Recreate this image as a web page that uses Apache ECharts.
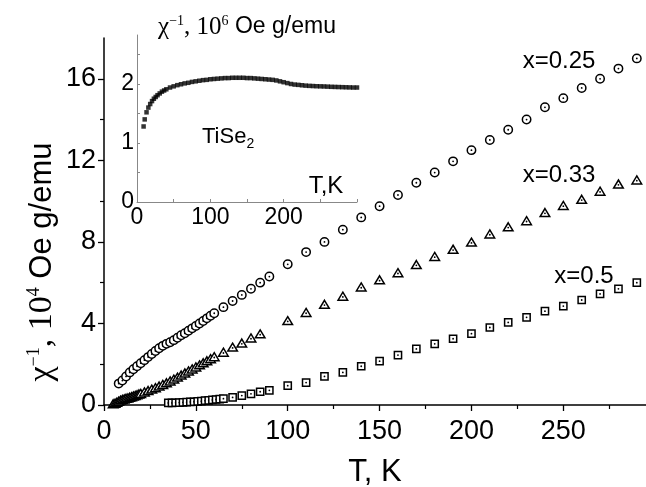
<!DOCTYPE html>
<html>
<head>
<meta charset="utf-8">
<script src="https://cdn.jsdelivr.net/npm/echarts@6/dist/echarts.min.js"></script>
<style>
  html, body { margin: 0; padding: 0; background: #fff; }
  #chart { width: 646px; height: 487px; }
</style>
</head>
<body>
<div id="chart"></div>
<script>
  // x = 0.25 (open circles)
  var tempX025 = [8, 10, 12, 14, 16, 18, 20, 22, 24, 26, 28, 30, 32, 34, 36, 38, 40, 42, 44, 46, 48, 50, 52, 54, 56, 58, 60,
    65, 70, 75, 80, 85, 90,
    100, 110, 120, 130, 140, 150, 160, 170, 180, 190, 200, 210, 220, 230, 240, 250, 260, 270, 280, 290];
  var chiX025 = [1.05, 1.2, 1.4, 1.6, 1.75, 1.9, 2.05, 2.2, 2.35, 2.5, 2.65, 2.78, 2.9, 3.0, 3.08, 3.18, 3.3, 3.42, 3.52, 3.64, 3.76, 3.88, 4.0, 4.12, 4.25, 4.38, 4.5,
    4.8, 5.1, 5.4, 5.7, 6.0, 6.3,
    6.9, 7.5, 8.0, 8.6, 9.2, 9.75, 10.3, 10.9, 11.4, 11.95, 12.5, 13.0, 13.5, 14.0, 14.6, 15.05, 15.55, 16.0, 16.5, 17.0];

  // x = 0.33 (open triangles)
  var tempX033 = [5, 6, 7, 8, 9, 10, 11, 12, 13, 14, 15, 16, 17, 18, 19, 20, 22, 24, 26, 28, 30, 32, 34, 36, 38, 40, 42, 44, 46, 48, 50, 52, 54, 56, 58, 60,
    65, 70, 75, 80, 85,
    100, 110, 120, 130, 140, 150, 160, 170, 180, 190, 200, 210, 220, 230, 240, 250, 260, 270, 280, 290];
  var chiX033 = [0.02, 0.05, 0.1, 0.15, 0.2, 0.23, 0.26, 0.29, 0.31, 0.34, 0.37, 0.4, 0.43, 0.46, 0.5, 0.53, 0.6, 0.67, 0.74, 0.81, 0.89, 0.97, 1.05, 1.14, 1.23, 1.33, 1.43, 1.53, 1.63, 1.73, 1.83, 1.93, 2.03, 2.13, 2.23, 2.33,
    2.55, 2.8, 3.0, 3.25, 3.45,
    4.1, 4.5, 4.9, 5.3, 5.75, 6.1, 6.45, 6.85, 7.25, 7.6, 7.95, 8.35, 8.7, 9.0, 9.4, 9.75, 10.05, 10.45, 10.8, 11.0];

  // x = 0.5 (open squares)
  var tempX05 = [35, 37, 39, 41, 43, 45, 47, 49, 51, 53, 55, 57, 59, 61, 63, 65,
    70, 75, 80, 85, 90,
    100, 110, 120, 130, 140, 150, 160, 170, 180, 190, 200, 210, 220, 230, 240, 250, 260, 270, 280, 290];
  var chiX05 = [0.1, 0.1, 0.11, 0.12, 0.13, 0.14, 0.15, 0.16, 0.18, 0.19, 0.21, 0.23, 0.25, 0.27, 0.29, 0.31,
    0.37, 0.46, 0.55, 0.65, 0.72,
    0.95, 1.1, 1.4, 1.6, 1.9, 2.15, 2.45, 2.75, 3.0, 3.25, 3.5, 3.8, 4.05, 4.3, 4.6, 4.85, 5.15, 5.45, 5.7, 6.0];

  // inset: TiSe2, 10^6 Oe g/emu
  var tempTiSe2 = [9, 10.5, 13, 15.5, 18, 20.5, 23, 25.5, 28, 31, 34, 37, 40, 45, 50, 55, 60, 65, 70, 75, 80, 85, 90, 95,
    100, 105, 110, 115, 120, 125, 130, 135, 140, 145, 150, 155, 160, 165, 170, 175, 180, 185, 190, 195,
    200, 205, 210, 215, 220, 225, 230, 235, 240, 245, 250, 255, 260, 265, 270, 275, 280, 285, 290, 295, 300];
  var chiTiSe2 = [1.28, 1.4, 1.52, 1.6, 1.66, 1.71, 1.75, 1.78, 1.81, 1.84, 1.87, 1.89, 1.91, 1.94, 1.96, 1.98, 1.995, 2.01, 2.02, 2.035, 2.045, 2.055, 2.065, 2.07,
    2.08, 2.085, 2.09, 2.095, 2.1, 2.1, 2.105, 2.105, 2.105, 2.105, 2.1, 2.1, 2.095, 2.09, 2.085, 2.08, 2.075, 2.07, 2.06, 2.045,
    2.03, 2.015, 2.0, 1.99, 1.985, 1.978, 1.972, 1.968, 1.965, 1.962, 1.96, 1.958, 1.955, 1.952, 1.95, 1.948, 1.946, 1.944, 1.942, 1.94, 1.94];

  // tick values
  var mainXTicks = [0, 50, 100, 150, 200, 250];
  var mainXMinor = [25, 75, 125, 175, 225, 275];
  var mainYTicks = [0, 4, 8, 12, 16];
  var mainYMinor = [2, 6, 10, 14];
  var insetXTicks = [0, 100, 200];
  var insetXMinor = [0, 50, 100, 150, 200, 250, 300];
  var insetYTicks = [0, 1, 2];
  var insetYMinor = [0, 0.5, 1, 1.5, 2, 2.5];

  var SANS = 'Liberation Sans, Arial, sans-serif';
  var SERIF = 'Liberation Serif, Times New Roman, serif';

  function zip(xs, ys) {
    return xs.map(function (x, i) { return [x, ys[i]]; });
  }

  // open marker with a dot in the centre, drawn point by point so later ones cover earlier ones
  function marker(shape) {
    return function (params, api) {
      var p = api.coord([api.value(0), api.value(1)]);
      var x = p[0], y = p[1];
      var outline;
      if (shape === 'circle') {
        outline = { type: 'circle', shape: { cx: x, cy: y, r: 4.2 } };
      } else if (shape === 'triangle') {
        outline = { type: 'polygon', shape: { points: [[x, y - 4.8], [x + 4.8, y + 3.2], [x - 4.8, y + 3.2]] } };
      } else {
        outline = { type: 'rect', shape: { x: x - 3.6, y: y - 3.6, width: 7.2, height: 7.2 } };
      }
      outline.style = { fill: '#fff', stroke: '#000', lineWidth: 1.5 };
      return {
        type: 'group',
        children: [
          outline,
          { type: 'circle', shape: { cx: x, cy: y, r: 0.9 }, style: { fill: '#000' } }
        ]
      };
    };
  }

  var chart = echarts.init(document.getElementById('chart'));

  var option = {
    backgroundColor: '#fff',
    animation: false,
    textStyle: { fontFamily: SANS, color: '#000' },
    grid: [
      { left: 104, top: 38, right: 0, bottom: 82, containLabel: false, outerBoundsMode: 'none' },
      { left: 137, top: 35, width: 220, height: 167, containLabel: false, outerBoundsMode: 'none' }
    ],
    xAxis: [
      {
        gridIndex: 0, type: 'value', min: 0, max: 295, position: 'bottom',
        name: 'T, K', nameLocation: 'middle', nameGap: 52,
        nameTextStyle: { fontSize: 31, color: '#000', fontFamily: SANS },
        axisLine: { onZero: false, lineStyle: { color: '#000', width: 1.5 } },
        axisTick: { customValues: mainXTicks, length: 6, lineStyle: { color: '#000', width: 1.3 } },
        axisLabel: { customValues: mainXTicks, fontSize: 27, color: '#000', margin: 13 },
        splitLine: { show: false }
      },
      {
        gridIndex: 0, type: 'value', min: 0, max: 295, position: 'bottom',
        axisLine: { show: false, onZero: false },
        axisTick: { customValues: mainXMinor, length: 4, lineStyle: { color: '#000', width: 1.2 } },
        axisLabel: { show: false },
        splitLine: { show: false }
      },
      {
        gridIndex: 1, type: 'value', min: 0, max: 300, position: 'bottom',
        axisLine: { onZero: false, lineStyle: { color: '#888', width: 1 } },
        axisTick: { customValues: insetXMinor, inside: true, length: 3, lineStyle: { color: '#888' } },
        axisLabel: { customValues: insetXTicks, fontSize: 23, color: '#000', margin: 4 },
        splitLine: { show: false }
      }
    ],
    yAxis: [
      {
        gridIndex: 0, type: 'value', min: 0, max: 18, position: 'left',
        axisLine: { show: true, onZero: false, lineStyle: { color: '#000', width: 1.5 } },
        axisTick: { show: true, customValues: mainYTicks, length: 6, lineStyle: { color: '#000', width: 1.3 } },
        axisLabel: { customValues: mainYTicks, fontSize: 27, color: '#000', margin: 8 },
        splitLine: { show: false }
      },
      {
        gridIndex: 0, type: 'value', min: 0, max: 18, position: 'left',
        axisLine: { show: false, onZero: false },
        axisTick: { show: true, customValues: mainYMinor, length: 4, lineStyle: { color: '#000', width: 1.2 } },
        axisLabel: { show: false },
        splitLine: { show: false }
      },
      {
        gridIndex: 1, type: 'value', min: 0, max: 2.83, position: 'left',
        axisLine: { show: true, onZero: false, lineStyle: { color: '#888', width: 1 } },
        axisTick: { show: true, customValues: insetYMinor, inside: true, length: 3, lineStyle: { color: '#888' } },
        axisLabel: { customValues: insetYTicks, fontSize: 23, color: '#000', margin: 3 },
        splitLine: { show: false }
      }
    ],
    series: [
      { name: 'x=0.25', type: 'custom', xAxisIndex: 0, yAxisIndex: 0, renderItem: marker('circle'), data: zip(tempX025, chiX025), clip: false },
      { name: 'x=0.33', type: 'custom', xAxisIndex: 0, yAxisIndex: 0, renderItem: marker('triangle'), data: zip(tempX033, chiX033), clip: false },
      { name: 'x=0.5', type: 'custom', xAxisIndex: 0, yAxisIndex: 0, renderItem: marker('square'), data: zip(tempX05, chiX05), clip: false },
      {
        name: 'TiSe2', type: 'scatter', xAxisIndex: 2, yAxisIndex: 2,
        symbol: 'rect', symbolSize: 4.5, itemStyle: { color: '#000' },
        data: zip(tempTiSe2, chiTiSe2)
      }
    ],
    graphic: [
      {
        type: 'text', x: 42, y: 262, rotation: Math.PI / 2, z: 100,
        style: {
          text: '{s|χ}{sup|−1}{s|, 10}{sup|4}{n| Oe g/emu}',
          align: 'center', verticalAlign: 'middle', fill: '#000',
          rich: {
            s: { fontFamily: SERIF, fontSize: 34, lineHeight: 34, fill: '#000' },
            sup: { fontFamily: SERIF, fontSize: 18, lineHeight: 18, verticalAlign: 'top', fill: '#000' },
            n: { fontFamily: SANS, fontSize: 31, lineHeight: 34, fill: '#000' }
          }
        }
      },
      {
        type: 'text', x: 247, y: 27, z: 100,
        style: {
          text: '{s|χ}{sup|−1}{s|, 10}{sup|6}{n| Oe g/emu}',
          align: 'center', verticalAlign: 'middle', fill: '#000',
          rich: {
            s: { fontFamily: SERIF, fontSize: 25, lineHeight: 26, fill: '#000' },
            sup: { fontFamily: SERIF, fontSize: 14, lineHeight: 14, verticalAlign: 'top', fill: '#000' },
            n: { fontFamily: SANS, fontSize: 23, lineHeight: 26, fill: '#000' }
          }
        }
      },
      {
        type: 'text', x: 202, y: 137, z: 100,
        style: {
          text: '{n|TiSe}{sub|2}',
          align: 'left', verticalAlign: 'middle', fill: '#000',
          rich: {
            n: { fontFamily: SANS, fontSize: 22, lineHeight: 28, fill: '#000' },
            sub: { fontFamily: SANS, fontSize: 14, lineHeight: 14, verticalAlign: 'bottom', fill: '#000' }
          }
        }
      },
      {
        type: 'text', x: 326, y: 186, z: 100,
        style: { text: 'T,K', fontFamily: SANS, fontSize: 24, align: 'center', verticalAlign: 'middle', fill: '#000' }
      },
      {
        type: 'text', x: 559, y: 61, z: 100,
        style: { text: 'x=0.25', fontFamily: SANS, fontSize: 24, align: 'center', verticalAlign: 'middle', fill: '#000' }
      },
      {
        type: 'text', x: 559, y: 175, z: 100,
        style: { text: 'x=0.33', fontFamily: SANS, fontSize: 24, align: 'center', verticalAlign: 'middle', fill: '#000' }
      },
      {
        type: 'text', x: 584, y: 276, z: 100,
        style: { text: 'x=0.5', fontFamily: SANS, fontSize: 24, align: 'center', verticalAlign: 'middle', fill: '#000' }
      }
    ]
  };

  chart.setOption(option);
</script>
</body>
</html>
